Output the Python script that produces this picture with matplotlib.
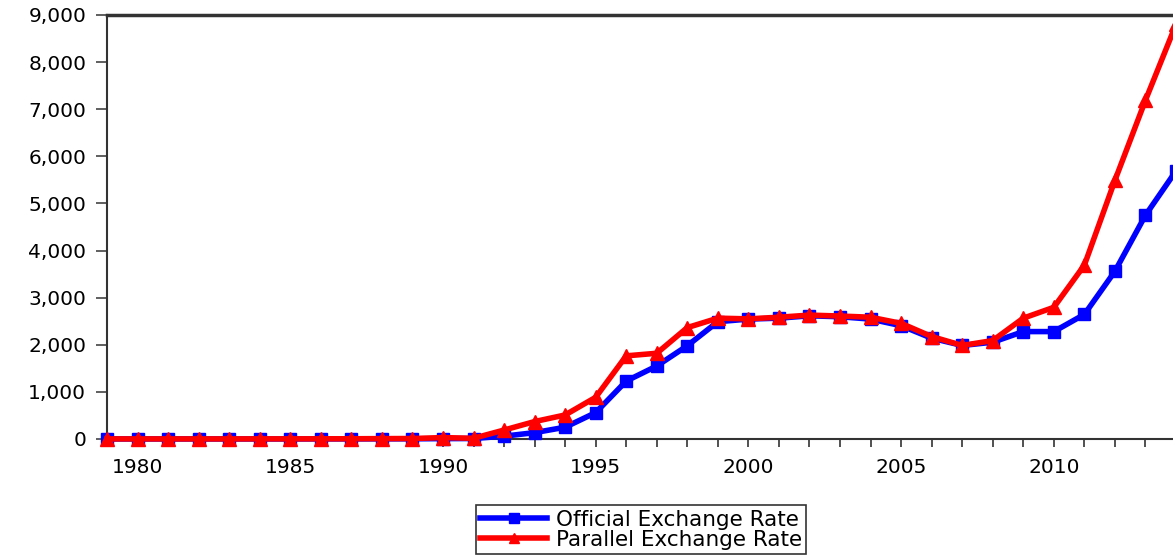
import matplotlib
matplotlib.use("Agg")
import matplotlib.pyplot as plt
from matplotlib.ticker import FuncFormatter, MultipleLocator

matplotlib.rcParams['font.family'] = ['DejaVu Sans']
matplotlib.rcParams['font.size'] = 14.5

years = list(range(1979, 2015))
official = [1, 1, 1, 1, 1, 1, 1, 2, 2, 3, 4, 8, 10,
            60, 135, 250, 560, 1230, 1550, 1980, 2490, 2545, 2565, 2615,
            2595, 2545, 2405, 2140, 1985, 2055, 2280, 2280, 2645, 3560,
            4750, 5690]
parallel = [2, 2, 2, 2, 2, 3, 3, 4, 5, 8, 10, 30, 15,
            190, 370, 510, 885, 1765, 1820, 2365, 2565, 2550, 2585, 2630,
            2610, 2585, 2455, 2175, 1985, 2090, 2565, 2795, 3690, 5490,
            7190, 8800]

fig = plt.figure(figsize=(11.73, 5.58), dpi=100)
ax = fig.add_axes([107 / 1173, 1 - 439 / 558, (1176 - 107) / 1173, (439 - 15) / 558])

ax.plot(years, official, color='#0000ff', lw=4, marker='s', ms=9,
        label='Official Exchange Rate', clip_on=False, zorder=3)
ax.plot(years, parallel, color='#ff0000', lw=4, marker='^', ms=10,
        label='Parallel Exchange Rate', clip_on=False, zorder=4)

ax.set_xlim(1979, 2014)
ax.set_ylim(0, 9000)
ax.xaxis.set_minor_locator(MultipleLocator(1))
ax.set_xticks(range(1980, 2015, 5))
ax.yaxis.set_major_locator(MultipleLocator(1000))
ax.yaxis.set_major_formatter(FuncFormatter(lambda v, p: f"{int(v):,}"))

ax.tick_params(axis='x', which='both', direction='out', length=6, width=1.2,
               colors='#333333', labelcolor='black', pad=8)
ax.tick_params(axis='y', direction='out', length=8, width=1.2,
               colors='#444444', labelcolor='black', pad=7)

for s in ['left', 'bottom']:
    ax.spines[s].set_color('#333333')
    ax.spines[s].set_linewidth(1.5)
ax.spines['top'].set_color('#333333')
ax.spines['top'].set_linewidth(2.5)
ax.spines['right'].set_visible(False)

leg = fig.legend(loc='center', bbox_to_anchor=(641 / 1173, 1 - 529.5 / 558),
                 frameon=True, fancybox=False, edgecolor='black',
                 fontsize=15.5, handlelength=3.1, borderpad=0.2,
                 labelspacing=0.0, handletextpad=0.4, markerscale=0.75,
                 borderaxespad=0)
leg.get_frame().set_linewidth(1.2)

fig.savefig('out.png', dpi=100)
